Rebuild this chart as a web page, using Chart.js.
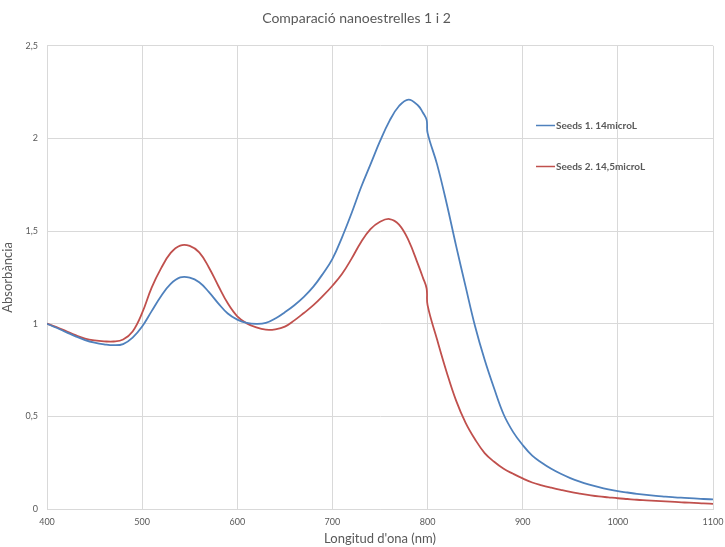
<!DOCTYPE html>
<html>
<head>
<meta charset="utf-8">
<script src="https://cdn.jsdelivr.net/npm/chart.js@4/dist/chart.umd.min.js"></script>
<style>
  html, body { margin: 0; padding: 0; background: #ffffff; }
  #wrap { width: 725px; height: 547px; position: relative; }
</style>
</head>
<body>
<div id="wrap"><canvas id="c" width="725" height="547"></canvas></div>
<script>
const chartTitle = "Comparació nanoestrelles 1 i 2";
const xTitle = "Longitud d'ona (nm)";
const yTitle = "Absorbància";
const seriesNames = ["Seeds 1. 14microL", "Seeds 2. 14,5microL"];

const wavelengths = [400,410,420,430,440,450,460,470,480,490,500,510,520,530,540,550,560,570,580,590,600,610,620,630,640,650,660,670,680,690,700,710,720,730,740,750,760,770,780,790,795,799,800,810,820,830,840,850,860,870,880,890,900,910,920,930,940,950,960,970,980,990,1000,1010,1020,1030,1040,1050,1060,1070,1080,1090,1100];

const seeds1 = [1.000,0.978,0.955,0.932,0.912,0.898,0.889,0.884,0.890,0.925,0.985,1.068,1.150,1.215,1.250,1.249,1.224,1.172,1.110,1.055,1.022,1.004,0.999,1.004,1.028,1.062,1.100,1.145,1.200,1.270,1.350,1.465,1.595,1.735,1.860,1.985,2.095,2.175,2.210,2.178,2.140,2.100,2.030,1.860,1.650,1.420,1.200,0.985,0.805,0.650,0.510,0.415,0.345,0.288,0.250,0.217,0.190,0.167,0.148,0.132,0.118,0.106,0.096,0.089,0.082,0.076,0.071,0.067,0.063,0.060,0.057,0.054,0.052];

const seeds2 = [1.000,0.982,0.960,0.938,0.920,0.910,0.905,0.904,0.915,0.958,1.058,1.195,1.300,1.382,1.422,1.420,1.385,1.305,1.205,1.110,1.040,1.002,0.980,0.968,0.970,0.984,1.018,1.058,1.100,1.150,1.205,1.268,1.350,1.440,1.510,1.550,1.565,1.535,1.450,1.320,1.250,1.190,1.100,0.915,0.740,0.585,0.465,0.375,0.302,0.255,0.217,0.190,0.165,0.143,0.128,0.115,0.103,0.092,0.083,0.075,0.068,0.063,0.058,0.054,0.050,0.047,0.044,0.041,0.038,0.035,0.033,0.030,0.028];

const xTicks = [400,500,600,700,800,900,1000,1100];
const yTicks = [0,0.5,1,1.5,2,2.5];

const seriesColors = ["#4F81BD", "#C0504D"];
const textColor = "#595959";
const gridColor = "#d9d9d9";
const fontFam = "Lato, 'Open Sans', sans-serif";

function toPoints(ys) { return wavelengths.map((w, i) => ({ x: w, y: ys[i] })); }

const insideLegend = {
  id: 'insideLegend',
  afterDraw(chart) {
    const ctx = chart.ctx;
    const xs = chart.scales.x, ys = chart.scales.y;
    const positions = [2.07, 1.85];
    ctx.save();
    ctx.font = "bold 10px " + fontFam;
    ctx.textBaseline = "middle";
    ctx.textAlign = "left";
    chart.data.datasets.forEach((ds, i) => {
      const y = Math.round(ys.getPixelForValue(positions[i])) + 0.5;
      const x0 = Math.round(xs.getPixelForValue(914));
      ctx.strokeStyle = ds.borderColor;
      ctx.lineWidth = 1.5;
      ctx.beginPath();
      ctx.moveTo(x0, y);
      ctx.lineTo(x0 + 19, y);
      ctx.stroke();
      ctx.fillStyle = textColor;
      ctx.fillText(ds.label, x0 + 20, y);
    });
    ctx.restore();
  }
};

new Chart(document.getElementById('c'), {
  type: 'line',
  data: {
    datasets: [
      { label: seriesNames[0], data: toPoints(seeds1), borderColor: seriesColors[0], backgroundColor: seriesColors[0], borderWidth: 1.8, pointRadius: 0, tension: 0.4, fill: false },
      { label: seriesNames[1], data: toPoints(seeds2), borderColor: seriesColors[1], backgroundColor: seriesColors[1], borderWidth: 1.8, pointRadius: 0, tension: 0.4, fill: false }
    ]
  },
  options: {
    responsive: false,
    animation: false,
    devicePixelRatio: 1,
    layout: { padding: { left: 0, right: 12, top: 0, bottom: 0 } },
    plugins: {
      legend: { display: false },
      tooltip: { enabled: false },
      title: {
        display: true,
        text: chartTitle,
        color: textColor,
        font: { family: fontFam, size: 14, weight: 'normal' },
        padding: { top: 10, bottom: 19 }
      }
    },
    scales: {
      x: {
        type: 'linear',
        min: 400, max: 1100,
        afterBuildTicks(scale) { scale.ticks = xTicks.map(v => ({ value: v })); },
        afterFit(scale) { scale.height = 38; scale.paddingRight = 0; },
        grid: { color: gridColor, drawTicks: false },
        border: { color: gridColor },
        ticks: { color: textColor, font: { family: fontFam, size: 9 }, padding: 8, maxRotation: 0,
          callback: v => String(v) },
        title: { display: true, text: xTitle, color: textColor, font: { family: fontFam, size: 13 }, padding: { top: 2, bottom: 0 } }
      },
      y: {
        type: 'linear',
        min: 0, max: 2.5,
        afterBuildTicks(scale) { scale.ticks = yTicks.map(v => ({ value: v })); },
        afterFit(scale) { scale.width = 47; },
        grid: { color: gridColor, drawTicks: false },
        border: { color: gridColor },
        ticks: { color: textColor, font: { family: fontFam, size: 9 }, padding: 9,
          callback: v => String(v).replace('.', ',') },
        title: { display: true, text: yTitle, color: textColor, font: { family: fontFam, size: 13 }, padding: { top: 0, bottom: 4 } }
      }
    }
  },
  plugins: [insideLegend]
});
</script>
</body>
</html>
